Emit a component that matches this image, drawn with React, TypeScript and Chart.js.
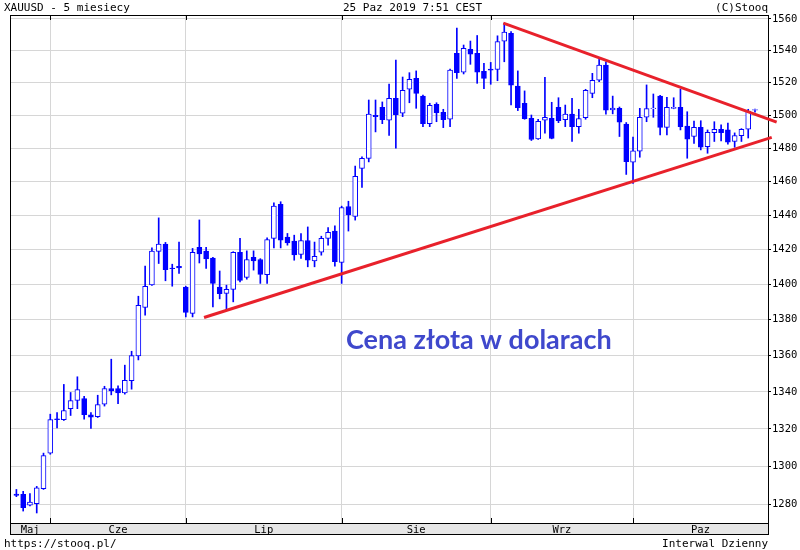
import React, { useEffect, useRef } from 'react';
import { Chart, registerables } from 'chart.js';

Chart.register(...registerables);

// Daily OHLC, XAUUSD, 27 May 2019 – 25 Oct 2019 (index = trading day)
const opens = [
  1285.3, 1285.2, 1279.5, 1280.4, 1288.2, 1307.0, 1325.4, 1325.0, 1330.9, 1335.4,
  1336.4, 1327.6, 1326.5, 1333.4, 1341.9, 1341.9, 1339.5, 1346.1, 1359.8, 1386.9,
  1399.8, 1419.0, 1423.2, 1409.4, 1410.4, 1398.5, 1383.6, 1421.4, 1419.1, 1415.1,
  1398.5, 1394.9, 1397.2, 1418.4, 1404.0, 1415.5, 1414.3, 1405.6, 1426.5, 1446.4,
  1427.3, 1425.0, 1417.2, 1425.3, 1413.5, 1418.5, 1426.5, 1430.8, 1412.6, 1445.2,
  1439.4, 1467.8, 1473.8, 1499.9, 1504.8, 1496.9, 1510.3, 1501.2, 1515.9, 1522.7,
  1511.7, 1494.8, 1506.7, 1501.8, 1497.5, 1538.3, 1526.5, 1540.8, 1538.3, 1527.0,
  1528.5, 1528.2, 1546.0, 1550.9, 1517.9, 1507.3, 1498.1, 1485.5, 1496.9, 1498.1,
  1504.8, 1497.3, 1500.6, 1493.0, 1498.5, 1513.4, 1521.5, 1530.9, 1503.2, 1504.2,
  1494.5, 1471.5, 1478.1, 1498.7, 1504.0, 1511.7, 1492.6, 1504.2, 1504.8, 1493.4,
  1487.0, 1492.6, 1480.8, 1489.4, 1491.4, 1491.0, 1484.0, 1487.5, 1491.4, 1503.0,
];
const highs = [
  1287.8, 1286.8, 1285.6, 1289.4, 1307.0, 1327.9, 1328.8, 1344.1, 1339.7, 1348.3,
  1337.6, 1328.8, 1338.2, 1343.1, 1358.0, 1343.3, 1354.7, 1362.4, 1393.3, 1410.5,
  1421.0, 1438.5, 1424.2, 1411.6, 1424.4, 1399.0, 1420.7, 1437.3, 1421.4, 1415.5,
  1407.7, 1399.6, 1418.8, 1426.5, 1419.3, 1419.3, 1414.8, 1426.8, 1447.3, 1448.0,
  1429.4, 1428.4, 1429.4, 1433.2, 1424.4, 1427.8, 1432.9, 1433.8, 1445.4, 1448.3,
  1469.2, 1474.8, 1509.3, 1509.3, 1508.1, 1519.2, 1534.1, 1523.5, 1526.2, 1527.3,
  1512.4, 1507.3, 1507.6, 1503.6, 1528.5, 1554.2, 1543.5, 1546.0, 1549.5, 1532.0,
  1532.6, 1549.3, 1557.3, 1551.9, 1527.3, 1514.9, 1500.1, 1497.5, 1523.3, 1507.9,
  1510.7, 1506.2, 1510.3, 1503.6, 1515.9, 1525.8, 1534.5, 1532.9, 1511.7, 1505.0,
  1495.5, 1486.6, 1504.2, 1518.6, 1513.0, 1512.2, 1511.0, 1510.7, 1515.9, 1502.1,
  1496.4, 1496.6, 1491.0, 1496.0, 1494.1, 1495.1, 1489.2, 1491.8, 1503.6, 1503.8,
];
const lows = [
  1284.0, 1276.5, 1279.2, 1275.5, 1287.8, 1306.4, 1320.5, 1324.5, 1327.2, 1330.9,
  1325.2, 1320.2, 1326.1, 1332.3, 1338.4, 1333.6, 1338.8, 1341.5, 1357.6, 1382.6,
  1399.5, 1412.0, 1402.1, 1399.0, 1406.3, 1381.6, 1381.6, 1412.3, 1409.2, 1387.3,
  1391.8, 1385.5, 1390.1, 1401.5, 1403.0, 1408.2, 1400.6, 1400.6, 1421.0, 1421.0,
  1422.6, 1413.9, 1414.9, 1410.1, 1410.1, 1416.8, 1422.6, 1410.5, 1400.6, 1430.8,
  1437.2, 1456.5, 1471.7, 1489.8, 1494.8, 1487.6, 1479.9, 1499.1, 1507.6, 1504.2,
  1493.0, 1493.0, 1496.0, 1492.4, 1493.0, 1522.7, 1525.4, 1531.4, 1519.6, 1516.3,
  1519.0, 1521.2, 1533.0, 1506.2, 1502.8, 1497.5, 1484.6, 1485.3, 1489.0, 1485.6,
  1495.4, 1493.0, 1484.0, 1489.0, 1497.5, 1510.7, 1520.6, 1500.6, 1500.8, 1487.0,
  1464.2, 1458.9, 1474.5, 1496.0, 1498.7, 1488.0, 1488.0, 1503.9, 1491.0, 1473.9,
  1482.9, 1478.9, 1476.9, 1484.0, 1484.4, 1482.4, 1480.5, 1484.0, 1486.1, 1501.8,
];
const closes = [
  1284.7, 1278.3, 1281.2, 1288.7, 1305.7, 1325.0, 1325.0, 1329.9, 1335.3, 1341.3,
  1327.6, 1326.3, 1333.1, 1341.9, 1340.6, 1339.5, 1346.3, 1360.0, 1388.1, 1398.9,
  1419.1, 1423.2, 1408.4, 1409.0, 1409.5, 1384.1, 1418.4, 1417.6, 1414.7, 1400.6,
  1394.7, 1397.2, 1418.4, 1402.3, 1414.3, 1413.5, 1405.8, 1425.9, 1445.4, 1425.5,
  1423.9, 1417.0, 1425.3, 1413.9, 1416.1, 1426.5, 1430.0, 1413.0, 1444.6, 1440.3,
  1463.0, 1473.8, 1500.6, 1499.1, 1497.3, 1510.3, 1500.3, 1515.3, 1522.1, 1513.4,
  1494.8, 1506.1, 1501.6, 1497.3, 1527.8, 1526.2, 1541.4, 1537.7, 1526.5, 1522.7,
  1527.7, 1545.6, 1551.6, 1518.4, 1504.6, 1497.9, 1485.2, 1496.3, 1498.7, 1485.8,
  1496.6, 1500.6, 1493.0, 1497.9, 1515.3, 1521.5, 1530.9, 1503.0, 1504.4, 1495.7,
  1471.9, 1478.4, 1498.7, 1504.0, 1504.4, 1492.6, 1504.8, 1504.8, 1493.0, 1485.4,
  1492.6, 1480.5, 1489.6, 1491.4, 1489.4, 1483.6, 1487.5, 1491.4, 1502.5, 1503.4,
];

const monthLabels = ['Maj', 'Cze', 'Lip', 'Sie', 'Wrz', 'Paz'];
const monthStarts = [0, 5, 25, 48, 70, 91];
const yTicks = [1280, 1300, 1320, 1340, 1360, 1380, 1400, 1420, 1440, 1460, 1480, 1500, 1520, 1540, 1560];
const xRange = [-0.944, 110.92];
const yRange = [1270.3, 1562.5];

// Trend lines (index, price)
const resistanceLine = [
  { x: 71.86, y: 1557.3 },
  { x: 112.2, y: 1495.7 },
];
const supportLine = [
  { x: 27.69, y: 1381.3 },
  { x: 111.47, y: 1486.5 },
];

const headerLeft = 'XAUUSD - 5 miesiecy';
const headerCenter = '25 Paz 2019 7:51 CEST';
const headerRight = '(C)Stooq';
const footerLeft = 'https://stooq.pl/';
const footerRight = 'Interwal Dzienny';
const annotation = 'Cena złota w dolarach';

const MONO = '"DejaVu Sans Mono", monospace';

const stooqPlugin = {
  id: 'stooqDecor',
  beforeDatasetsDraw(chart: any) {
    const { ctx, chartArea: a, scales } = chart;
    const xs = scales.x;
    ctx.save();
    ctx.strokeStyle = '#000';
    ctx.lineWidth = 1;
    ctx.strokeRect(a.left + 0.5, a.top + 0.5, a.right - a.left, a.bottom - a.top);
    ctx.beginPath();
    monthStarts.slice(1).forEach((m) => {
      const px = Math.round(xs.getPixelForValue(m)) + 0.5;
      ctx.moveTo(px, a.top);
      ctx.lineTo(px, a.top + 5);
      ctx.moveTo(px, a.bottom - 5);
      ctx.lineTo(px, a.bottom);
    });
    ctx.stroke();
    ctx.restore();
  },
  afterDraw(chart: any) {
    const { ctx, chartArea: a, scales } = chart;
    const xs = scales.x;
    ctx.save();
    // month strip
    const stripTop = a.bottom;
    const stripH = 11;
    ctx.fillStyle = '#e6e6e6';
    ctx.fillRect(a.left, stripTop, a.right - a.left, stripH);
    ctx.strokeStyle = '#000';
    ctx.lineWidth = 1;
    ctx.strokeRect(a.left + 0.5, stripTop + 0.5, a.right - a.left, stripH);
    const bounds = monthStarts.slice(1).map((m) => xs.getPixelForValue(m));
    const edges = [a.left, ...bounds, a.right];
    ctx.fillStyle = '#000';
    ctx.font = '10.5px ' + MONO;
    ctx.textAlign = 'center';
    ctx.textBaseline = 'alphabetic';
    monthLabels.forEach((lab, i) => {
      const cx = (edges[i] + edges[i + 1]) / 2;
      ctx.fillText(lab, cx, stripTop + 9.5);
    });
    // header & footer
    ctx.font = '11px ' + MONO;
    ctx.textAlign = 'left';
    ctx.fillText(headerLeft, 4, 11);
    ctx.fillText(headerCenter, 343, 11);
    ctx.textAlign = 'right';
    ctx.fillText(headerRight, a.right, 11);
    ctx.textAlign = 'left';
    ctx.fillText(footerLeft, 4, 547);
    ctx.textAlign = 'right';
    ctx.fillText(footerRight, a.right, 547);
    // annotation
    ctx.textAlign = 'left';
    ctx.fillStyle = '#3f48cc';
    ctx.font = 'bold 27px Lato, "Open Sans", sans-serif';
    ctx.fillText(annotation, 346, 349);
    ctx.restore();
  },
};

export default function App() {
  const canvasRef = useRef<HTMLCanvasElement | null>(null);

  useEffect(() => {
    if (!canvasRef.current) return;
    const bodyData = opens.map((o, i) => ({ x: i, y: [o, closes[i]] }));
    const wickData = highs.map((h, i) => ({ x: i, y: [lows[i], h] }));
    const bodyBg = opens.map((o, i) => (closes[i] >= o ? '#ffffff' : '#0000ff'));

    const chart = new Chart(canvasRef.current, {
      type: 'bar',
      data: {
        datasets: [
          {
            type: 'line',
            data: resistanceLine,
            borderColor: '#e8212b',
            borderWidth: 3,
            pointRadius: 0,
            clip: false,
            order: 0,
          } as any,
          {
            type: 'line',
            data: supportLine,
            borderColor: '#e8212b',
            borderWidth: 3,
            pointRadius: 0,
            clip: false,
            order: 0,
          } as any,
          {
            type: 'bar',
            data: bodyData,
            backgroundColor: bodyBg,
            borderColor: '#0000ff',
            borderWidth: 1,
            borderSkipped: false,
            barThickness: 5,
            grouped: false,
            order: 1,
          } as any,
          {
            type: 'bar',
            data: wickData,
            backgroundColor: '#0000ff',
            borderWidth: 0,
            barThickness: 1,
            grouped: false,
            order: 2,
          } as any,
        ],
      },
      options: {
        animation: false,
        responsive: false,
        devicePixelRatio: 1,
        layout: { padding: { top: 15, left: 10, right: 0, bottom: 0 } },
        plugins: { legend: { display: false }, tooltip: { enabled: false } },
        scales: {
          x: {
            type: 'linear',
            min: xRange[0],
            max: xRange[1],
            offset: false,
            grid: { color: '#d6d6d6', offset: false, drawTicks: false },
            border: { display: false },
            ticks: { display: false },
            afterBuildTicks: (s: any) => {
              s.ticks = monthStarts.slice(1).map((v) => ({ value: v }));
            },
            afterFit: (s: any) => {
              s.height = 27;
            },
          },
          y: {
            type: 'logarithmic',
            position: 'right',
            min: yRange[0],
            max: yRange[1],
            grid: { color: '#d6d6d6', tickColor: '#000', tickLength: 3 },
            border: { display: false },
            ticks: {
              color: '#000',
              padding: 1,
              autoSkip: false,
              font: { family: 'DejaVu Sans Mono', size: 10.5 },
              callback: (v: any) => String(v),
            },
            afterBuildTicks: (s: any) => {
              s.ticks = yTicks.map((v) => ({ value: v }));
            },
            afterFit: (s: any) => {
              s.width = 32;
            },
          },
        },
      } as any,
      plugins: [stooqPlugin],
    });
    return () => chart.destroy();
  }, []);

  return (
    <div style={{ position: 'fixed', left: 0, top: 0, width: 800, height: 550, background: '#fff' }}>
      <canvas ref={canvasRef} width={800} height={550} style={{ display: 'block' }} />
    </div>
  );
}
